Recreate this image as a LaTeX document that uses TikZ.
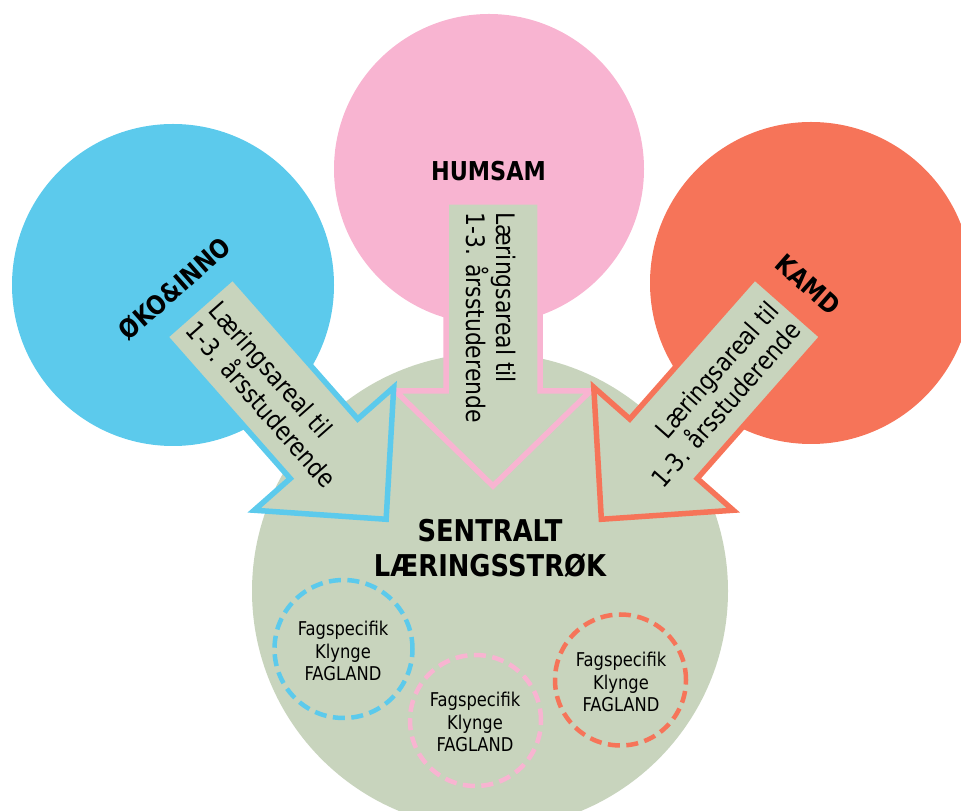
\documentclass[tikz,border=0pt]{standalone}
\usepackage{fontspec}
\setmainfont{DejaVu Sans}[FakeStretch=0.86]
\definecolor{cblue}{RGB}{92,202,236}
\definecolor{cpink}{RGB}{248,180,209}
\definecolor{corange}{RGB}{246,116,89}
\definecolor{cgreen}{RGB}{200,212,189}
\begin{document}
\begin{tikzpicture}[x=1pt,y=1pt,
  bigcirc/.style={circle,inner sep=0pt,draw=none},
  headlbl/.style={font=\fontsize{26}{31}\selectfont\bfseries,inner sep=0pt},
  centerlbl/.style={font=\fontsize{30}{35}\selectfont\bfseries,inner sep=0pt,anchor=base},
  blockarrow/.style={line width=5.5pt,line join=miter,fill=cgreen},
  armtext/.style={font=\fontsize{25.5}{30}\selectfont,inner sep=0pt,transform shape},
  cluster/.style={circle,inner sep=0pt,line width=4.5pt,dash pattern=on 12pt off 6.5pt},
  clustertext/.style={font=\fontsize{19}{22.5}\selectfont,align=center,inner sep=0pt}]
\useasboundingbox (0,0) rectangle (961,811);

% big circles
\node[bigcirc,fill=cblue,minimum size=322pt] (oko) at (173,526) {};
\node[bigcirc,fill=cpink,minimum size=310pt] (hum) at (489,642) {};
\node[bigcirc,fill=corange,minimum size=322pt] (kamd) at (811,528) {};
\node[bigcirc,fill=cgreen,minimum size=476pt] (sentral) at (490,220) {};

% circle labels
\node[headlbl,rotate=41.4] (okolbl) at (174.5,522.5) {ØKO\&INNO};
\node[headlbl] (humlbl) at (488.5,639.5) {HUMSAM};
\node[headlbl,rotate=-41.4] (kamdlbl) at (808.5,526.5) {KAMD};

% pink block arrow
\begin{scope}[shift={(493,609)},rotate=-90]
  \draw[blockarrow,draw=cpink] (0,47) -- (189,47) -- (189,97.5) -- (284,0)
     -- (189,-97.5) -- (189,-47) -- (0,-47) -- cycle;
  \node[armtext,anchor=base west] (p1) at (10,3) {Læringsareal til};
  \node[armtext,anchor=base west] (p2) at (10,-27) {1-3. årsstuderende};
\end{scope}

% blue block arrow
\begin{scope}[shift={(199,504)},rotate=-48.6]
  \draw[blockarrow,draw=cblue] (0,45) -- (189,45) -- (189,93) -- (283,0)
     -- (189,-93) -- (189,-45) -- (0,-45) -- cycle;
  \node[armtext,anchor=base west] (b1) at (9,3) {Læringsareal til};
  \node[armtext,anchor=base west] (b2) at (9,-27) {1-3. årsstuderende};
\end{scope}

% orange block arrow
\begin{scope}[shift={(788.5,504)},rotate=-131.4]
  \draw[blockarrow,draw=corange] (0,45) -- (189,45) -- (189,93) -- (283,0)
     -- (189,-93) -- (189,-45) -- (0,-45) -- cycle;
  \node[armtext,anchor=base east,rotate=180] (o1) at (9,-3) {Læringsareal til};
  \node[armtext,anchor=base east,rotate=180] (o2) at (9,27) {1-3. årsstuderende};
\end{scope}

% central title
\node[centerlbl] (s1) at (490,269) {SENTRALT};
\node[centerlbl] (s2) at (490,234) {LÆRINGSSTRØK};

% dashed clusters
\node[cluster,draw=cblue,minimum size=138pt] (k1) at (343.5,162) {};
\node[cluster,draw=cpink,minimum size=131pt] (k2) at (475.5,90.5) {};
\node[cluster,draw=corange,minimum size=131pt] (k3) at (620.5,131) {};
\node[clustertext] (t1) at (343,160) {Fagspecifik\\Klynge\\FAGLAND};
\node[clustertext] (t2) at (475,89) {Fagspecifik\\Klynge\\FAGLAND};
\node[clustertext] (t3) at (621,129) {Fagspecifik\\Klynge\\FAGLAND};
\end{tikzpicture}
\end{document}
